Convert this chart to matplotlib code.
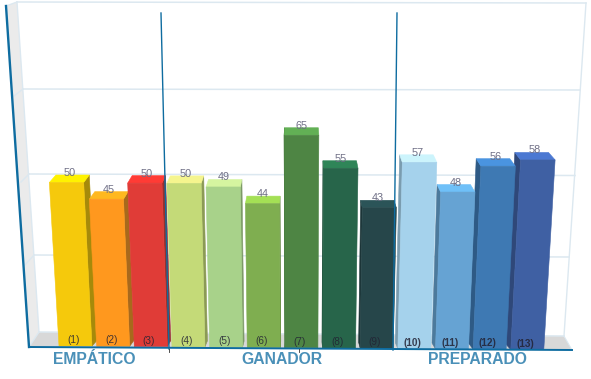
import matplotlib
matplotlib.use('Agg')
import matplotlib.pyplot as plt

# values
values = [50, 45, 50, 50, 49, 44, 65, 55, 43, 57, 48, 56, 58]
bar_labels = ['(%d)' % n for n in range(1, 14)]
groups = ['EMPÁTICO', 'GANADOR', 'PREPARADO']
group_centers = [94, 282, 477]

front_colors = ['#F5C90C', '#FF981E', '#E03C37', '#C4DA78', '#A8D28A', '#7FAE50', '#4E8544',
                '#27654A', '#26464A', '#A5D2EC', '#66A3D3', '#3E79B3', '#3F60A3']
top_colors = ['#FFF200', '#FFB81F', '#FF3B35', '#F5F58E', '#D5F5A0', '#A4E055', '#62B055',
              '#2F8558', '#2B5458', '#CCF4FC', '#6FC0F8', '#4A94E0', '#4B78D2']
side_colors = ['#A68A0A', '#A8691C', '#98302C', '#8B9A55', '#7C9A66', '#5E803B', '#3A6433',
               '#1D4C38', '#1C3538', '#7A9CAF', '#4C7A9C', '#2E5A85', '#2F4879']

# the fake 3d look: everything leans away from the middle of the picture
center_x = 300
lean = 0.0008      # how much x spreads per unit of value
depth = 0.974      # back of a bar compared to its front
depth_up = 7.5
bar_step = 37.65
bar_width = 33
unit_h = 3.27

def base_x(i):
    return 59 + i * bar_step

def base_y(i):
    return 346 + i * 0.3

def spread(x, v):
    return x + (x - center_x) * lean * v

def to_back(x):
    return center_x + (x - center_x) * depth

fig = plt.figure(figsize=(5.91, 3.79), dpi=100)
ax = fig.add_axes([0, 0, 1, 1])
ax.set_xlim(0, 591)
ax.set_ylim(379, 0)
ax.axis('off')

# walls and floor
ax.fill([6, 17, 39, 29], [6, 2, 332, 347], color='#EBEBEB', lw=0, zorder=1)
ax.fill([29, 39, 564, 572], [347, 332, 336, 350], color='#D8D8D8', lw=0, zorder=1)

grid_color = '#DCE8F0'
grid_left = [(2, 17, 6, 6), (89, 23, 14, 96), (174, 29, 21, 182), (255, 34, 25, 265), (332, 39, 29, 347)]
grid_right = [(3, 586), (90, 580), (175.5, 575), (257, 569), (336, 564)]
for (yl, xl, x2, y2), (yr, xr) in zip(grid_left, grid_right):
    ax.plot([xl, xr], [yl, yr], color=grid_color, lw=1.1, zorder=2)
    ax.plot([xl, x2], [yl, y2], color=grid_color, lw=1.0, zorder=2)
ax.plot([17, 39], [2, 332], color=grid_color, lw=1.0, zorder=2)
ax.plot([586, 564], [3, 336], color=grid_color, lw=1.0, zorder=2)
ax.plot([564, 572], [336, 350], color=grid_color, lw=0.8, zorder=2)

# bars, outer ones first so the inner ones sit on top of their side faces
order = sorted(range(len(values)), key=lambda n: -abs(n - 6))
for z, i in enumerate(order):
    v = values[i]
    y0 = base_y(i)
    y1 = y0 - v * unit_h
    x0l = base_x(i)
    x0r = x0l + bar_width
    x1l = spread(x0l, v)
    x1r = spread(x0r, v)
    zo = 3 + z

    # side face
    if i < 6:
        sx0, sx1 = x0r, x1r
    else:
        sx0, sx1 = x0l, x1l
    ax.fill([sx0, to_back(sx0), to_back(sx1), sx1], [y0, y0 - 6, y1 - depth_up, y1],
            color=side_colors[i], lw=0.4, zorder=zo)
    # top face
    ax.fill([x1l, x1r, to_back(x1r), to_back(x1l)], [y1, y1, y1 - depth_up, y1 - depth_up],
            color=top_colors[i], lw=0.4, zorder=zo)
    # front face
    ax.fill([x0l, x0r, x1r, x1l], [y0, y0, y1, y1], color=front_colors[i], lw=0.4, zorder=zo)

    mid = (x1l + x1r) / 2
    ax.text((mid + to_back(mid)) / 2, y1 - 9.5, str(v), color='#6E6E85', fontsize=7.8,
            family='Liberation Sans', ha='center', va='center', zorder=40)
    ax.text((x0l + x0r) / 2 - 2, y0 - 6, bar_labels[i], color='#222233', fontsize=7.2,
            family='Liberation Sans', ha='center', va='center', alpha=0.85, zorder=40,
            fontweight='bold' if i > 8 else 'normal')

# dark blue frame lines
line_color = '#0E6CA0'
ax.plot([6, 29], [6, 347], color=line_color, lw=1.7, zorder=50)
ax.plot([29, 572], [347, 350], color=line_color, lw=1.4, zorder=50)
ax.plot([161, 169], [13, 349], color=line_color, lw=1.0, zorder=50)
ax.plot([397, 393], [13, 350], color=line_color, lw=1.0, zorder=50)
ax.plot([169, 169], [349, 352], color='#333333', lw=0.6, zorder=50)
ax.plot([299, 299], [349, 352], color='#333333', lw=0.6, zorder=50)

for name, x in zip(groups, group_centers):
    ax.text(x, 359, name, color='#4A90B8', fontsize=11.3, fontweight='bold',
            family='Liberation Sans', ha='center', va='center', zorder=60)

fig.savefig('out.png', dpi=100)
